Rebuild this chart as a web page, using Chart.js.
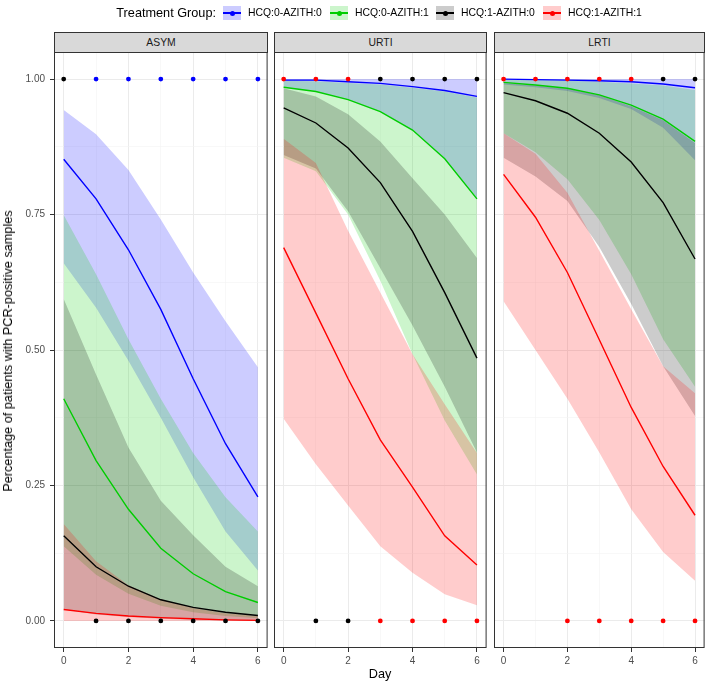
<!DOCTYPE html>
<html><head><meta charset="utf-8">
<script src="https://cdn.jsdelivr.net/npm/chart.js@4.4.1/dist/chart.umd.min.js"></script>
<style>
html,body{margin:0;padding:0;background:#fff;}
#wrap{position:relative;width:708px;height:683px;overflow:hidden;font-family:"Liberation Sans",Arial,sans-serif;}
#wrap canvas{position:absolute;top:0;}
.strip{position:absolute;top:32px;height:21px;box-sizing:border-box;border:1px solid #333;background:#d9d9d9;color:#1a1a1a;font-size:10.4px;text-align:center;line-height:19px;}
.txt{position:absolute;white-space:nowrap;color:#000;}
.key{position:absolute;top:6px;width:18px;height:14px;}
.key .ln{position:absolute;left:0;right:0;top:6px;height:2px;}
.key .dt{position:absolute;left:6.5px;top:4.5px;width:5px;height:5px;border-radius:50%;}
</style></head>
<body><div id="wrap"></div>
<script>
// ---------------- data ----------------
const days = [0, 1, 2, 3, 4, 5, 6];
const groups = ['HCQ:0-AZITH:0', 'HCQ:0-AZITH:1', 'HCQ:1-AZITH:0', 'HCQ:1-AZITH:1'];
const panelNames = ['ASYM', 'URTI', 'LRTI'];
const xTickValues = [0, 1, 2, 3, 4, 5, 6];
const xTickLabels = ['0', '', '2', '', '4', '', '6'];
const yTickValues = [0, 0.125, 0.25, 0.375, 0.5, 0.625, 0.75, 0.875, 1];
const yTickLabels = ['0.00', '', '0.25', '', '0.50', '', '0.75', '', '1.00'];

// ASYM
const asymG1Fit = [0.852, 0.779, 0.685, 0.575, 0.447, 0.327, 0.229];
const asymG1Lo  = [0.660, 0.578, 0.480, 0.375, 0.265, 0.165, 0.093];
const asymG1Hi  = [0.943, 0.898, 0.832, 0.741, 0.643, 0.553, 0.468];
const asymG2Fit = [0.410, 0.296, 0.206, 0.134, 0.087, 0.054, 0.034];
const asymG2Lo  = [0.138, 0.085, 0.050, 0.028, 0.016, 0.009, 0.005];
const asymG2Hi  = [0.749, 0.640, 0.520, 0.410, 0.310, 0.228, 0.165];
const asymG3Fit = [0.157, 0.100, 0.064, 0.039, 0.025, 0.016, 0.010];
const asymG3Lo  = [0.021, 0.012, 0.007, 0.004, 0.002, 0.001, 0.0005];
const asymG3Hi  = [0.594, 0.455, 0.320, 0.222, 0.158, 0.100, 0.064];
const asymG4Fit = [0.021, 0.014, 0.009, 0.006, 0.004, 0.002, 0.001];
const asymG4Lo  = [0, 0, 0, 0, 0, 0, 0];
const asymG4Hi  = [0.179, 0.110, 0.066, 0.040, 0.024, 0.014, 0.009];
const asymPositiveDays = [[1, 2, 3, 4, 5, 6], [], [0], []];
const asymNegativeDays = [[], [], [1, 2, 3, 4, 5, 6], []];

// URTI
const urtiG1Fit = [0.998, 0.998, 0.995, 0.992, 0.986, 0.979, 0.968];
const urtiG1Lo  = [0.985, 0.977, 0.962, 0.940, 0.906, 0.853, 0.779];
const urtiG1Hi  = [1.000, 1.000, 1.000, 1.000, 1.000, 1.000, 1.000];
const urtiG2Fit = [0.985, 0.977, 0.962, 0.940, 0.906, 0.853, 0.779];
const urtiG2Lo  = [0.855, 0.830, 0.750, 0.628, 0.492, 0.370, 0.270];
const urtiG2Hi  = [0.997, 0.996, 0.993, 0.990, 0.984, 0.977, 0.966];
const urtiG3Fit = [0.947, 0.919, 0.873, 0.809, 0.719, 0.606, 0.485];
const urtiG3Lo  = [0.860, 0.835, 0.756, 0.651, 0.545, 0.432, 0.311];
const urtiG3Hi  = [0.983, 0.968, 0.935, 0.885, 0.817, 0.750, 0.670];
const urtiG4Fit = [0.689, 0.568, 0.447, 0.334, 0.247, 0.157, 0.103];
const urtiG4Lo  = [0.373, 0.289, 0.213, 0.138, 0.089, 0.049, 0.029];
const urtiG4Hi  = [0.890, 0.845, 0.720, 0.606, 0.492, 0.400, 0.310];
const urtiPositiveDays = [[], [], [3, 4, 5, 6], [0, 1, 2]];
const urtiNegativeDays = [[], [], [1, 2], [3, 4, 5, 6]];

// LRTI
const lrtiG1Fit = [1.000, 0.999, 0.998, 0.997, 0.995, 0.991, 0.984];
const lrtiG1Lo  = [0.990, 0.985, 0.978, 0.965, 0.945, 0.910, 0.850];
const lrtiG1Hi  = [1.000, 1.000, 1.000, 1.000, 1.000, 1.000, 1.000];
const lrtiG2Fit = [0.994, 0.989, 0.983, 0.971, 0.952, 0.926, 0.885];
const lrtiG2Lo  = [0.900, 0.865, 0.815, 0.740, 0.640, 0.520, 0.432];
const lrtiG2Hi  = [0.999, 0.998, 0.997, 0.995, 0.992, 0.988, 0.980];
const lrtiG3Fit = [0.975, 0.960, 0.937, 0.900, 0.847, 0.772, 0.668];
const lrtiG3Lo  = [0.855, 0.820, 0.775, 0.690, 0.585, 0.470, 0.378];
const lrtiG3Hi  = [0.993, 0.988, 0.982, 0.970, 0.950, 0.924, 0.882];
const lrtiG4Fit = [0.824, 0.745, 0.643, 0.519, 0.394, 0.285, 0.195];
const lrtiG4Lo  = [0.590, 0.500, 0.410, 0.311, 0.206, 0.127, 0.074];
const lrtiG4Hi  = [0.900, 0.862, 0.790, 0.683, 0.575, 0.470, 0.420];
const lrtiPositiveDays = [[], [], [5, 6], [0, 1, 2, 3, 4]];
const lrtiNegativeDays = [[], [], [], [2, 3, 4, 5, 6]];

// ---------------- styles ----------------
const lineColors = ['#0000ff', '#00cd00', '#000000', '#ff0000'];
const fillColors = ['rgba(0,0,255,0.2)', 'rgba(0,205,0,0.2)', 'rgba(0,0,0,0.2)', 'rgba(255,0,0,0.2)'];

const panels = [
  {name: panelNames[0], fit: [asymG1Fit, asymG2Fit, asymG3Fit, asymG4Fit], lo: [asymG1Lo, asymG2Lo, asymG3Lo, asymG4Lo], hi: [asymG1Hi, asymG2Hi, asymG3Hi, asymG4Hi], pos: asymPositiveDays, neg: asymNegativeDays},
  {name: panelNames[1], fit: [urtiG1Fit, urtiG2Fit, urtiG3Fit, urtiG4Fit], lo: [urtiG1Lo, urtiG2Lo, urtiG3Lo, urtiG4Lo], hi: [urtiG1Hi, urtiG2Hi, urtiG3Hi, urtiG4Hi], pos: urtiPositiveDays, neg: urtiNegativeDays},
  {name: panelNames[2], fit: [lrtiG1Fit, lrtiG2Fit, lrtiG3Fit, lrtiG4Fit], lo: [lrtiG1Lo, lrtiG2Lo, lrtiG3Lo, lrtiG4Lo], hi: [lrtiG1Hi, lrtiG2Hi, lrtiG3Hi, lrtiG4Hi], pos: lrtiPositiveDays, neg: lrtiNegativeDays}
];

// layout (pixel boxes of each panel)
const panelLeft = [54, 274, 494];
const panelWidth = [214, 213, 211];
const panelTop = 52, panelBottom = 648, H = 683;

Chart.defaults.font.family = '"Liberation Sans", Arial, sans-serif';

const wrap = document.getElementById('wrap');
const borderPlugin = {
  id: 'panelBorder',
  afterDraw(chart) {
    const {ctx, chartArea: a} = chart;
    ctx.save();
    ctx.strokeStyle = '#333333';
    ctx.lineWidth = 1;
    ctx.strokeRect(a.left + 0.5, a.top + 0.5, a.right - a.left - 1, a.bottom - a.top - 1);
    ctx.restore();
  }
};
const isMajorY = v => Math.abs(v * 4 - Math.round(v * 4)) < 1e-9;
const isMajorX = v => Math.abs(v / 2 - Math.round(v / 2)) < 1e-9;

panels.forEach((p, pi) => {
  const axisW = pi === 0 ? 54 : 4;
  const cv = document.createElement('canvas');
  const cw = axisW + panelWidth[pi] + 2;
  cv.width = cw; cv.height = H;
  cv.style.left = (panelLeft[pi] - axisW) + 'px';
  cv.style.width = cw + 'px'; cv.style.height = H + 'px';
  wrap.appendChild(cv);

  const datasets = [];
  const pts = arr => days.map((d, i) => ({x: d, y: arr[i]}));
  for (let g = 0; g < 4; g++) {
    datasets.push({data: pts(p.hi[g]), fill: '+1', backgroundColor: fillColors[g], borderWidth: 0, pointRadius: 0, order: 100 - g});
    datasets.push({data: pts(p.lo[g]), fill: false, borderWidth: 0, pointRadius: 0, order: 100 - g});
  }
  for (let g = 0; g < 4; g++) {
    datasets.push({data: pts(p.fit[g]), fill: false, borderColor: lineColors[g], borderWidth: 1.4, pointRadius: 0, tension: 0, order: 50 - g});
  }
  for (let g = 0; g < 4; g++) {
    const obs = p.pos[g].map(d => ({x: d, y: 1})).concat(p.neg[g].map(d => ({x: d, y: 0})));
    datasets.push({data: obs, showLine: false, fill: false, pointRadius: 2.4, pointBackgroundColor: lineColors[g], pointBorderWidth: 0, order: 10 - g});
  }

  new Chart(cv, {
    type: 'line',
    data: {datasets},
    plugins: [borderPlugin],
    options: {
      responsive: false, animation: false, devicePixelRatio: 1,
      layout: {padding: {top: panelTop, right: 2, bottom: 0, left: 0}},
      plugins: {legend: {display: false}, tooltip: {enabled: false}},
      elements: {point: {hoverRadius: 2.4}},
      scales: {
        x: {
          type: 'linear', min: -0.3, max: 6.3,
          afterBuildTicks: s => { s.ticks = xTickValues.map(v => ({value: v})); },
          afterFit: s => { s.height = H - panelBottom; s.paddingLeft = 0; s.paddingRight = 0; },
          ticks: {autoSkip: false, maxRotation: 0, color: '#4d4d4d', font: {size: 10}, padding: 3,
            callback: v => xTickLabels[xTickValues.indexOf(v)] ?? ''},
          grid: {
            color: c => isMajorX(c.tick.value) ? '#ebebeb' : '#f3f3f3',
            lineWidth: c => isMajorX(c.tick.value) ? 1 : 0.6,
            tickColor: c => isMajorX(c.tick.value) ? '#333333' : 'rgba(0,0,0,0)',
            tickLength: 4, tickWidth: 1
          },
          border: {display: false}
        },
        y: {
          type: 'linear', min: -0.05, max: 1.05,
          afterBuildTicks: s => { s.ticks = yTickValues.map(v => ({value: v})); },
          afterFit: s => { s.width = axisW; s.paddingTop = 0; s.paddingBottom = 0; },
          ticks: {display: pi === 0, color: '#4d4d4d', font: {size: 10}, padding: 5,
            callback: v => yTickLabels[yTickValues.indexOf(v)] ?? ''},
          grid: {
            color: c => isMajorY(c.tick.value) ? '#ebebeb' : '#f3f3f3',
            lineWidth: c => isMajorY(c.tick.value) ? 1 : 0.6,
            tickColor: c => (pi === 0 && isMajorY(c.tick.value)) ? '#333333' : 'rgba(0,0,0,0)',
            drawTicks: pi === 0, tickLength: 4, tickWidth: 1
          },
          border: {display: false}
        }
      }
    }
  });

  const st = document.createElement('div');
  st.className = 'strip';
  st.style.left = panelLeft[pi] + 'px';
  st.style.width = (panelWidth[pi]) + 'px';
  st.textContent = p.name;
  wrap.appendChild(st);
});

// legend
function addText(txt, css) {
  const d = document.createElement('div');
  d.className = 'txt';
  d.textContent = txt;
  Object.assign(d.style, css);
  wrap.appendChild(d);
  return d;
}
addText('Treatment Group:', {left: '0px', width: '216px', textAlign: 'right', top: '5px', fontSize: '12.7px', lineHeight: '16px'});
const keyX = [223, 330, 436, 543];
const labX = [248, 355, 461, 568];
groups.forEach((g, i) => {
  const k = document.createElement('div');
  k.className = 'key';
  k.style.left = keyX[i] + 'px';
  k.style.background = fillColors[i];
  const ln = document.createElement('div'); ln.className = 'ln'; ln.style.background = lineColors[i];
  const dt = document.createElement('div'); dt.className = 'dt'; dt.style.background = lineColors[i];
  k.appendChild(ln); k.appendChild(dt);
  wrap.appendChild(k);
  addText(g, {left: labX[i] + 'px', top: '6px', fontSize: '10.4px', lineHeight: '14px'});
});

// axis titles
addText('Day', {left: '330px', width: '100px', textAlign: 'center', top: '666px', fontSize: '12.7px', lineHeight: '16px'});
addText('Percentage of patients with PCR-positive samples', {left: '8px', top: '351px', fontSize: '12.7px', lineHeight: '16px', transform: 'translate(-50%,-50%) rotate(-90deg)'});
</script>
</body></html>
